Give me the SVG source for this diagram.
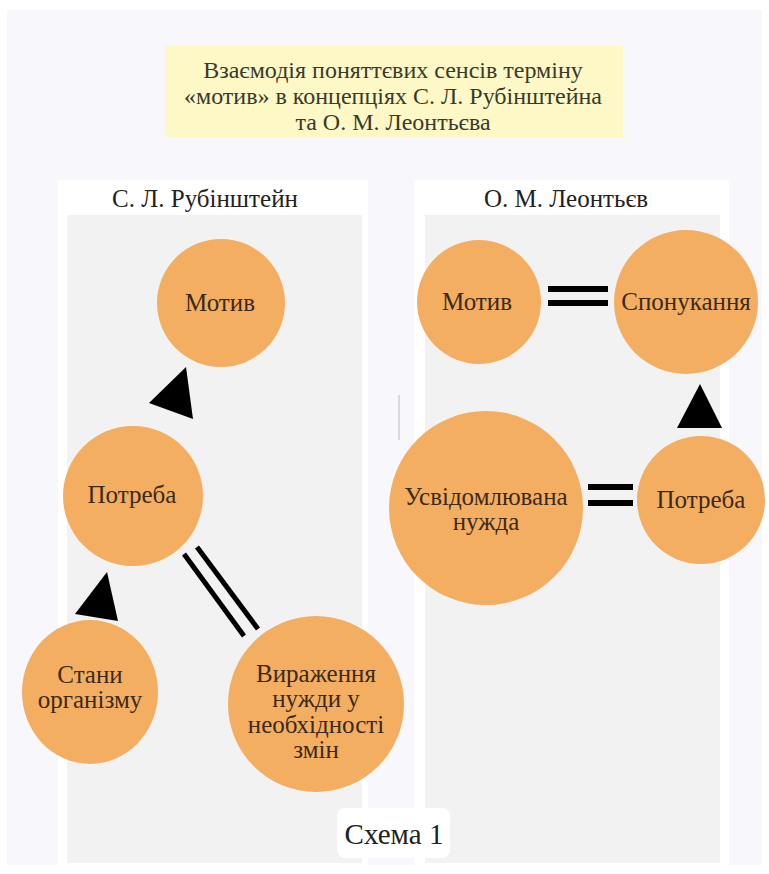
<svg xmlns="http://www.w3.org/2000/svg" width="769" height="874" viewBox="0 0 769 874">
  <style>
    text { font-family: 'Liberation Serif', 'Times New Roman', serif; text-anchor: middle; }
    .node { fill: #f4ae62; }
    .lbl { font-size: 25px; fill: #3b2a17; }
    .ttl { font-size: 24px; fill: #3a3a2c; }
    .hdr { font-size: 25px; fill: #222222; }
    .bar { fill: #000000; }
    .dl { stroke: #000000; stroke-width: 5; }
  </style>
  <rect x="0" y="0" width="769" height="874" fill="#ffffff"/>
  <rect x="7" y="10" width="755" height="855" fill="#f8f7fb"/>

  <g id="title">
    <rect x="165" y="46" width="458" height="91" fill="#fdf8c6"/>
    <text class="ttl" x="393" y="78">Взаємодія поняттєвих сенсів терміну</text>
    <text class="ttl" x="393" y="104">«мотив» в концепціях С. Л. Рубінштейна</text>
    <text class="ttl" x="393" y="130">та О. М. Леонтьєва</text>
  </g>

  <g id="panel-left">
    <rect x="58" y="180" width="310" height="685" fill="#ffffff"/>
    <rect x="67" y="215" width="295" height="648" fill="#f2f2f3"/>
    <text class="hdr" x="205" y="207">С. Л. Рубінштейн</text>
  </g>
  <g id="panel-right">
    <rect x="414" y="180" width="315" height="685" fill="#ffffff"/>
    <rect x="425" y="215" width="295" height="648" fill="#f2f2f3"/>
    <text class="hdr" x="566" y="207">О. М. Леонтьєв</text>
  </g>
  <line x1="399" y1="395" x2="399" y2="440" stroke="#cfcfd4" stroke-width="1.5"/>

  <g id="connectors">
    <polygon class="bar" points="149,403 186,367 193,419"/>
    <polygon class="bar" points="75,614 107,572 118,621"/>
    <line class="dl" x1="184" y1="554" x2="244" y2="636"/>
    <line class="dl" x1="197" y1="547" x2="258" y2="629"/>
    <rect class="bar" x="548" y="286" width="60" height="6"/>
    <rect class="bar" x="548" y="300" width="60" height="6"/>
    <polygon class="bar" points="677,428 722,428 700,384"/>
    <rect class="bar" x="588" y="484" width="45" height="6"/>
    <rect class="bar" x="588" y="500" width="45" height="6"/>
  </g>

  <g id="l-motyv">
    <circle class="node" cx="221" cy="303" r="64"/>
    <text class="lbl" x="220" y="311">Мотив</text>
  </g>
  <g id="l-potreba">
    <circle class="node" cx="133" cy="496" r="70"/>
    <text class="lbl" x="132" y="503">Потреба</text>
  </g>
  <g id="l-stany">
    <ellipse class="node" cx="90" cy="692" rx="68" ry="72"/>
    <text class="lbl" x="90" y="683">Стани</text>
    <text class="lbl" x="90" y="708">організму</text>
  </g>
  <g id="l-vyrazhennia">
    <circle class="node" cx="316" cy="704" r="88"/>
    <text class="lbl" x="316" y="682">Вираження</text>
    <text class="lbl" x="316" y="707">нужди у</text>
    <text class="lbl" x="316" y="733">необхідності</text>
    <text class="lbl" x="316" y="758">змін</text>
  </g>

  <g id="r-motyv">
    <circle class="node" cx="479" cy="302" r="62"/>
    <text class="lbl" x="477" y="310">Мотив</text>
  </g>
  <g id="r-sponukannia">
    <circle class="node" cx="686" cy="302" r="72"/>
    <text class="lbl" x="686" y="310">Спонукання</text>
  </g>
  <g id="r-usvidomliuvana">
    <circle class="node" cx="486" cy="508" r="97"/>
    <text class="lbl" x="486" y="505">Усвідомлювана</text>
    <text class="lbl" x="486" y="530">нужда</text>
  </g>
  <g id="r-potreba">
    <circle class="node" cx="701" cy="500" r="64"/>
    <text class="lbl" x="701" y="508">Потреба</text>
  </g>

  <g id="caption">
    <rect x="337" y="808" width="113" height="50" rx="8" fill="#ffffff"/>
    <text x="394" y="844" font-size="29" fill="#222222">Схема 1</text>
  </g>
</svg>
